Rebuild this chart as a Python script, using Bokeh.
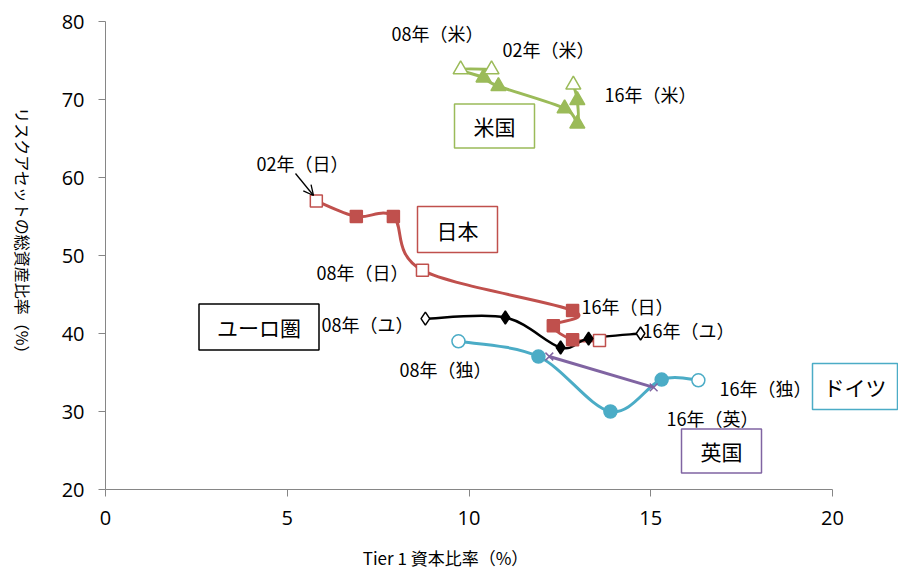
import math
from bokeh.plotting import figure
from bokeh.models import Label, Arrow, OpenHead, Range1d, FixedTicker, LinearAxis
from bokeh.embed import file_html
from bokeh.resources import INLINE

# ---------------- data ----------------
# United States (米国)
us_x = [10.62, 9.77, 10.40, 10.81, 12.63, 12.98, 12.98, 12.87]
us_y = [73.85, 73.85, 72.8, 71.7, 68.85, 66.9, 69.9, 71.9]
us_open = [0, 1, 7]          # labelled years drawn hollow

# Japan (日本)
jp_x = [5.80, 6.90, 7.92, 8.72, 12.85, 12.32, 12.85, 13.59]
jp_y = [57.0, 55.0, 55.0, 48.1, 42.95, 41.0, 39.2, 39.1]
jp_open = [0, 3, 7]

# Euro area (ユーロ圏)
eu_x = [8.80, 11.00, 12.52, 13.29, 14.72]
eu_y = [41.9, 42.05, 38.2, 39.35, 40.0]
eu_open = [0, 4]

# Germany (ドイツ)
de_x = [9.71, 11.91, 13.89, 15.30, 16.31]
de_y = [39.0, 37.05, 30.0, 34.1, 34.0]
de_open = [0, 4]

# United Kingdom (英国)
uk_x = [12.21, 15.08]
uk_y = [37.05, 33.1]

x_ticks = [0, 5, 10, 15, 20]
y_ticks = [20, 30, 40, 50, 60, 70, 80]

# ---------------- layout ----------------
W, H = 898, 569
L, R, T, B = 105, 66, 21, 80          # plot-area edges in pixels
XMIN, XMAX, YMIN, YMAX = 0, 20, 20, 80
kx = (W - L - R) / (XMAX - XMIN)       # px per unit
ky = (H - T - B) / (YMAX - YMIN)


def px(xp):
    return XMIN + (xp - L) / kx


def py(yp):
    return YMAX - (yp - T) / ky


p = figure(width=W, height=H, output_backend="svg", toolbar_location=None,
           x_range=Range1d(px(0), px(W)), y_range=Range1d(py(H), py(0)),
           x_axis_location=None, y_axis_location=None, min_border=0)
p.outline_line_color = None
p.xgrid.visible = False
p.ygrid.visible = False
p.background_fill_color = "white"
p.border_fill_color = "white"

xaxis = LinearAxis(fixed_location=YMIN, bounds=(XMIN, XMAX),
                   ticker=FixedTicker(ticks=x_ticks))
yaxis = LinearAxis(fixed_location=XMIN, bounds=(YMIN, YMAX),
                   ticker=FixedTicker(ticks=y_ticks))
for ax in (xaxis, yaxis):
    ax.axis_line_color = "#868686"
    ax.axis_line_width = 1
    ax.major_tick_line_color = "#868686"
    ax.major_tick_out = 7
    ax.major_tick_in = 0
    ax.minor_tick_line_color = None
    ax.major_label_text_font = "Open Sans"
    ax.major_label_text_font_size = "20px"
    ax.major_label_text_color = "#000000"
xaxis.major_label_standoff = 14
yaxis.major_label_standoff = 14
p.add_layout(xaxis, "below")
p.add_layout(yaxis, "left")


def smooth(xs, ys, color, width=3):
    n = len(xs)
    d = dict(x0=[], y0=[], x1=[], y1=[], cx0=[], cy0=[], cx1=[], cy1=[])
    for i in range(n - 1):
        a = max(i - 1, 0)
        b = min(i + 2, n - 1)
        d["x0"].append(xs[i]); d["y0"].append(ys[i])
        d["x1"].append(xs[i + 1]); d["y1"].append(ys[i + 1])
        d["cx0"].append(xs[i] + (xs[i + 1] - xs[a]) / 6)
        d["cy0"].append(ys[i] + (ys[i + 1] - ys[a]) / 6)
        d["cx1"].append(xs[i + 1] - (xs[b] - xs[i]) / 6)
        d["cy1"].append(ys[i + 1] - (ys[b] - ys[i]) / 6)
    p.bezier(line_color=color, line_width=width, line_cap="round", **d)


def markers(xs, ys, open_idx, marker, size, color):
    fx = [x for i, x in enumerate(xs) if i not in open_idx]
    fy = [y for i, y in enumerate(ys) if i not in open_idx]
    ox = [xs[i] for i in open_idx]
    oy = [ys[i] for i in open_idx]
    p.scatter(fx, fy, marker=marker, size=size, fill_color=color,
              line_color=color, line_width=1.5)
    p.scatter(ox, oy, marker=marker, size=size, fill_color="white",
              line_color=color, line_width=1.5)


GREEN = "#9BBB59"
RED = "#C0504D"
BLACK = "#000000"
TEAL = "#4BACC6"
PURPLE = "#8064A2"

smooth(us_x, us_y, GREEN)
smooth(jp_x, jp_y, RED)
smooth(eu_x, eu_y, BLACK, 2.5)
smooth(de_x, de_y, TEAL)
p.line(uk_x, uk_y, line_color=PURPLE, line_width=3)

markers(us_x, us_y, us_open, "triangle", 15, GREEN)
markers(jp_x, jp_y, jp_open, "square", 12, RED)
markers(eu_x, eu_y, eu_open, "diamond", 13, BLACK)
markers(de_x, de_y, de_open, "circle", 13, TEAL)
p.scatter(uk_x, uk_y, marker="x", size=11, line_color=PURPLE, line_width=1.5)

JP_FONT = "Noto Sans CJK JP"

# year annotations
notes = [
    ("08年（米）", 437, 32), ("02年（米）", 548, 48), ("16年（米）", 650, 93),
    ("02年（日）", 302, 162), ("08年（日）", 362, 271), ("16年（日）", 627, 305),
    ("08年（ユ）", 367, 323), ("16年（ユ）", 688, 329),
    ("08年（独）", 445, 368), ("16年（独）", 765, 387),
    ("16年（英）", 712, 417),
]
for t, xp, yp in notes:
    p.add_layout(Label(x=px(xp), y=py(yp), text=t, text_font=JP_FONT,
                       text_font_size="18px", text_align="center",
                       text_baseline="middle", text_color="#000000"))

# country boxes
boxes = [
    ("米国", 494, 125.5, 80, 45, GREEN),
    ("日本", 457, 229, 80, 46, RED),
    ("ユーロ圏", 258.5, 326.5, 119, 47, BLACK),
    ("ドイツ", 854.5, 386, 85, 46, TEAL),
    ("英国", 721, 450.5, 80, 45, PURPLE),
]
FS = 21
for t, xc, yc, bw, bh, col in boxes:
    tw = FS * len(t)
    th = FS * 1.43
    ph = max(int(round((bw - tw) / 2)), 0)
    pv = max(int(round((bh - th) / 2)), 0)
    p.add_layout(Label(x=px(xc), y=py(yc), text=t, text_font=JP_FONT,
                       text_font_size=f"{FS}px", text_align="center",
                       text_baseline="middle", text_color="#000000",
                       border_line_color=col, border_line_width=1.5,
                       background_fill_color="white",
                       padding=(ph, ph, pv, pv)))

# arrow for 02年（日）
p.add_layout(Arrow(end=OpenHead(size=10, line_width=1.3, line_color="black"),
                   x_start=px(295), y_start=py(173), x_end=px(313), y_end=py(195),
                   line_width=1.3, line_color="black"))

# axis titles
p.add_layout(Label(x=px(445), y=py(557), text="Tier 1 資本比率（%）",
                   text_font=JP_FONT, text_font_size="17px", text_color="#000000",
                   text_align="center", text_baseline="middle"))
p.add_layout(Label(x=px(22), y=py(234), text="リスクアセットの総資産比率（%）",
                   text_font=JP_FONT, text_font_size="16px", text_color="#000000",
                   angle=-math.pi / 2,
                   text_align="center", text_baseline="middle"))

open("out.html", "w").write(file_html(p, INLINE))
